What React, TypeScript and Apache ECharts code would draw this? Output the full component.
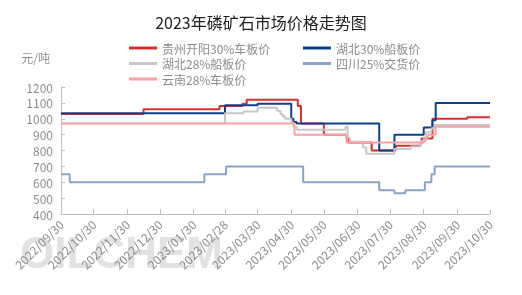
import React, { useEffect, useRef } from "react";
import * as echarts from "echarts";

type Pt = [string, number];

const seriesNames = [
  "贵州开阳30%车板价",
  "湖北30%船板价",
  "湖北28%船板价",
  "四川25%交货价",
  "云南28%车板价",
];

const tickLabels = [
  "2022/09/30", "2022/10/30", "2022/11/30", "2022/12/30", "2023/01/30",
  "2023/02/28", "2023/03/30", "2023/04/30", "2023/05/30", "2023/06/30",
  "2023/07/30", "2023/08/30", "2023/09/30", "2023/10/30",
];

const guizhou30: Pt[] = [
  ["2022/09/30", 1030], ["2022/12/15", 1060], ["2023/02/23", 1080],
  ["2023/03/16", 1095], ["2023/03/20", 1120], ["2023/05/06", 1080],
  ["2023/05/09", 970], ["2023/05/30", 900], ["2023/06/20", 875],
  ["2023/06/22", 850], ["2023/07/13", 800], ["2023/08/04", 830],
  ["2023/08/27", 845], ["2023/08/28", 875], ["2023/09/07", 1000],
  ["2023/10/09", 1010], ["2023/10/30", 1010],
];

const hubei30: Pt[] = [
  ["2022/09/30", 1035], ["2023/02/28", 1085], ["2023/03/30", 1095],
  ["2023/04/30", 1000], ["2023/05/02", 980], ["2023/05/05", 970],
  ["2023/07/20", 800], ["2023/08/03", 900], ["2023/08/30", 945],
  ["2023/09/07", 990], ["2023/09/10", 1100], ["2023/10/30", 1100],
];

const hubei28: Pt[] = [
  ["2022/09/30", 970], ["2023/02/28", 1035], ["2023/03/17", 1045],
  ["2023/03/30", 1070], ["2023/04/17", 1050], ["2023/04/20", 1030],
  ["2023/04/22", 1015], ["2023/04/24", 1000], ["2023/04/30", 975],
  ["2023/05/02", 950], ["2023/05/05", 930], ["2023/06/19", 950],
  ["2023/06/21", 880], ["2023/06/23", 855], ["2023/07/05", 820],
  ["2023/07/08", 780], ["2023/08/03", 810], ["2023/08/18", 825],
  ["2023/08/27", 860], ["2023/09/01", 915], ["2023/09/06", 940],
  ["2023/09/09", 960], ["2023/10/30", 960],
];

const sichuan25: Pt[] = [
  ["2022/09/30", 650], ["2022/10/08", 600], ["2023/02/09", 650],
  ["2023/03/01", 700], ["2023/05/11", 600], ["2023/07/20", 550],
  ["2023/08/03", 530], ["2023/08/13", 550], ["2023/08/31", 600],
  ["2023/09/06", 650], ["2023/09/09", 700], ["2023/10/30", 700],
];

const yunnan28: Pt[] = [
  ["2022/09/30", 970], ["2023/05/03", 900], ["2023/06/20", 850],
  ["2023/08/30", 880], ["2023/09/03", 900], ["2023/09/10", 950],
  ["2023/10/30", 950],
];

const seriesData = [guizhou30, hubei30, hubei28, sichuan25, yunnan28];
const seriesColors = ["#d7312a", "#0e3f8c", "#c8c8c8", "#8aa2cc", "#ff9fa6"];

function pad(n: number) {
  return n < 10 ? "0" + n : "" + n;
}
const dates: string[] = [];
for (let t = Date.UTC(2022, 8, 30); t <= Date.UTC(2023, 9, 30); t += 86400000) {
  const d = new Date(t);
  dates.push(`${d.getUTCFullYear()}/${pad(d.getUTCMonth() + 1)}/${pad(d.getUTCDate())}`);
}
const tickSet = new Set(tickLabels);

const FONT = '"Noto Sans CJK SC", "Noto Sans", sans-serif';

export default function App() {
  const ref = useRef<HTMLDivElement>(null);
  useEffect(() => {
    if (!ref.current) return;
    const chart = echarts.init(ref.current, undefined, { renderer: "svg" });
    const legendBase = {
      orient: "vertical" as const,
      top: 36,
      icon: "rect",
      itemWidth: 28,
      itemHeight: 3,
      itemGap: 1.5,
      textStyle: { fontSize: 12, color: "#8c8c8c", fontFamily: FONT, lineHeight: 14 },
    };
    chart.setOption({
      animation: false,
      textStyle: { fontFamily: FONT },
      title: {
        text: "2023年磷矿石市场价格走势图",
        left: "center",
        top: 9,
        textStyle: { fontSize: 16, fontWeight: "normal", color: "#222", fontFamily: FONT },
      },
      legend: [
        { ...legendBase, left: 124, data: [seriesNames[0], seriesNames[2], seriesNames[4]] },
        { ...legendBase, left: 298, data: [seriesNames[1], seriesNames[3]] },
      ],
      graphic: [
        {
          type: "text",
          left: 20,
          top: 230,
          z: -10,
          silent: true,
          style: {
            text: "OILCHEM",
            fontSize: 44,
            fontWeight: "bold",
            fontFamily: "Liberation Sans, sans-serif",
            fill: "#e2e2e2",
          },
        },
      ],
      grid: { left: 61, right: 32, top: 87, bottom: 81, containLabel: false },
      xAxis: {
        type: "category",
        data: dates,
        boundaryGap: false,
        axisLine: { lineStyle: { color: "#bfbfbf" } },
        axisTick: {
          inside: true,
          length: 5,
          lineStyle: { color: "#bfbfbf" },
          interval: (_i: number, v: string) => tickSet.has(v),
        },
        axisLabel: {
          rotate: 45,
          fontSize: 12,
          color: "#8c8c8c",
          margin: 8,
          interval: (_i: number, v: string) => tickSet.has(v),
        },
        splitLine: { show: false },
      },
      yAxis: {
        type: "value",
        min: 400,
        max: 1200,
        interval: 100,
        name: "元/吨",
        nameGap: 24,
        nameTextStyle: { fontSize: 12, color: "#8c8c8c", align: "right", padding: [0, 11, 0, 0] },
        axisLine: { show: true, lineStyle: { color: "#bfbfbf" } },
        axisTick: { show: true, inside: true, length: 4, lineStyle: { color: "#bfbfbf" } },
        axisLabel: {
          fontSize: 12,
          color: "#8c8c8c",
          margin: 8,
          formatter: (v: number) => String(v),
        },
        splitLine: { show: false },
      },
      series: seriesNames.map((name, i) => ({
        name,
        type: "line",
        step: "end",
        symbol: "none",
        showSymbol: false,
        data: seriesData[i],
        color: seriesColors[i],
        itemStyle: { color: seriesColors[i] },
        lineStyle: { width: 2, color: seriesColors[i] },
      })),
    });
    return () => chart.dispose();
  }, []);
  return (
    <div
      ref={ref}
      style={{ position: "fixed", left: 0, top: 0, width: 522, height: 295 }}
    />
  );
}
